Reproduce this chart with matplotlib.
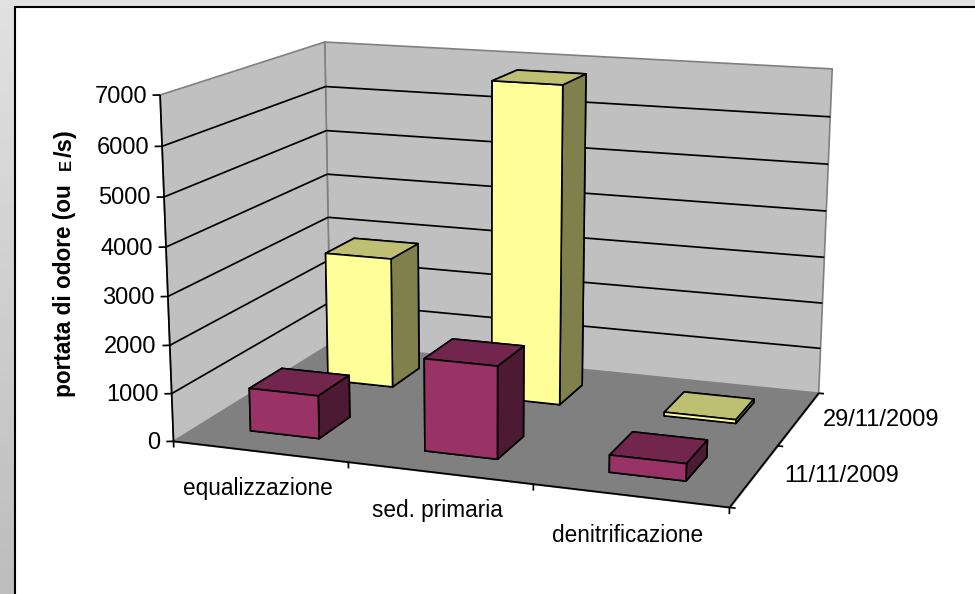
import numpy as np
import matplotlib
matplotlib.use('Agg')
import matplotlib.pyplot as plt
from matplotlib.patches import Rectangle
from mpl_toolkits.mplot3d import proj3d
from mpl_toolkits.mplot3d.art3d import Poly3DCollection, Line3DCollection

plt.rcParams['font.family'] = ['Liberation Sans', 'DejaVu Sans']

categories = ['equalizzazione', 'sed. primaria', 'denitrificazione']
series_names = ['11/11/2009', '29/11/2009']
values_nov11 = [900, 1900, 350]
values_nov29 = [2850, 6800, 80]
value_ticks = [0, 1000, 2000, 3000, 4000, 5000, 6000, 7000]

W, H = 975, 594
ZMAX = value_ticks[-1]
NCAT = len(categories)
NSER = len(series_names)

# reference points of the box: (category, series, value) -> pixel
box_pts = [
    (0, 0, 7000, 159.5, 95), (0, 0, 0, 175, 440),
    (0, 2, 7000, 325.5, 41), (0, 2, 0, 329.5, 346),
    (3, 2, 7000, 832, 70), (3, 2, 0, 818, 391),
    (3, 0, 0, 729, 508), (1, 0, 0, 348, 462),
    (2, 0, 0, 532, 485), (3, 1, 0, 780, 446),
]


def fit_camera(pts):
    # plain DLT, value axis and pixels scaled down so the svd behaves
    rows = []
    for x, y, z, u, v in pts:
        z, u, v = z / 1000, u / 1000, (H - v) / 1000
        rows.append([x, y, z, 1, 0, 0, 0, 0, -u * x, -u * y, -u * z, -u])
        rows.append([0, 0, 0, 0, x, y, z, 1, -v * x, -v * y, -v * z, -v])
    p = np.linalg.svd(np.array(rows))[2][-1].reshape(3, 4)
    p[:2] *= 1000
    p[:, 2] /= 1000
    w = p[2] @ np.array([1.5, 1, 3500, 1])
    p = p / w
    return np.vstack([p[0], p[1], [0, 0, 0, -1], p[2]])


fig = plt.figure(figsize=(W / 100, H / 100), dpi=100)

# grey slide background and white chart area
bg = fig.add_axes([0, 0, 1, 1], zorder=0)
bg.imshow(np.linspace(0.88, 0.74, 64).reshape(-1, 1), cmap='gray', vmin=0, vmax=1,
          extent=(0, W, H, 0), aspect='auto')
bg.add_patch(Rectangle((15, 7), W, H, facecolor='white', edgecolor='black', linewidth=1.5))
bg.set_xlim(0, W)
bg.set_ylim(H, 0)
bg.axis('off')

ax = fig.add_axes([0, 0, 1, 1], projection='3d', zorder=1, computed_zorder=False)
ax.set_axis_off()
ax.patch.set_visible(False)
M = fit_camera(box_pts)
ax.get_proj = lambda: M
ax.apply_aspect = lambda position=None: None


def label(x, y, z, s, dx, dy, **kw):
    # text at a projected chart position, shifted by dx, dy pixels
    px, py, _ = proj3d.proj_transform(x, y, z, M)
    fig.text((px + dx) / W, (py + dy) / H, s, color='black', va='center', **kw)


# walls and floor
left_wall = [(0, 0, 0), (0, NSER, 0), (0, NSER, ZMAX), (0, 0, ZMAX)]
back_wall = [(0, NSER, 0), (NCAT, NSER, 0), (NCAT, NSER, ZMAX), (0, NSER, ZMAX)]
floor = [(0, 0, 0), (NCAT, 0, 0), (NCAT, NSER, 0), (0, NSER, 0)]
ax.add_collection3d(Poly3DCollection([left_wall, back_wall], facecolors='#C0C0C0',
                                     edgecolors='#808080', linewidths=1.2, zorder=1))
ax.add_collection3d(Poly3DCollection([floor], facecolors='#808080',
                                     edgecolors='#808080', linewidths=1.0, zorder=1))

# gridlines, axis lines and ticks
segs = []
for v in value_ticks[1:-1]:
    segs.append([(0, 0, v), (0, NSER, v)])
    segs.append([(0, NSER, v), (NCAT, NSER, v)])
segs.append([(0, 0, 0), (0, 0, ZMAX)])
segs.append([(0, 0, 0), (NCAT, 0, 0)])
segs.append([(NCAT, 0, 0), (NCAT, NSER, 0)])
for v in value_ticks:
    segs.append([(-0.034, -0.016, v), (0, 0, v)])
for i in range(NCAT + 1):
    segs.append([(i, 0, 0), (i, 0, -130)])
for j in range(NSER + 1):
    segs.append([(NCAT, j, 0), (NCAT + 0.03, j, 0)])
ax.add_collection3d(Line3DCollection(segs, colors='black', linewidths=1.25, zorder=2))

# bars, back row first. face order: bottom, top, front, back, left, right
bar_w = 0.4
xpos = np.arange(NCAT) + 0.5 - bar_w / 2
nov29_colors = ['#80804D', '#BFBF73', '#FFFF99', '#80804D', '#80804D', '#80804D']
nov11_colors = ['#4D1A33', '#73264D', '#993366', '#4D1A33', '#4D1A33', '#4D1A33']
ax.bar3d(xpos, [1.5 - bar_w / 2] * NCAT, [0] * NCAT, bar_w, bar_w, values_nov29,
         color=nov29_colors * NCAT, shade=False, edgecolor='black', linewidth=1.2, zorder=3)
ax.bar3d(xpos, [0.5 - bar_w / 2] * NCAT, [0] * NCAT, bar_w, bar_w, values_nov11,
         color=nov11_colors * NCAT, shade=False, edgecolor='black', linewidth=1.2, zorder=4)

ax.viewLim.intervalx = (0, W)
ax.viewLim.intervaly = (0, H)

# labels
for v in value_ticks:
    label(0, 0, v, str(v), -13, -1.5, ha='right', fontsize=17)
cat_dy = [-37, -38, -40]
for i, c in enumerate(categories):
    label(i + 0.5, 0, 0, c, -2, cat_dy[i], ha='center', fontsize=16.3)
ser_dx = [30, 24]
for j, s in enumerate(series_names):
    label(NCAT, j + 0.5, 0, s, ser_dx[j], -1, ha='left', fontsize=17)

# axis title, the E is set smaller
fig.text(65 / W, 1 - 397 / H, 'portata di odore (ou', rotation=90, ha='center', va='bottom',
         fontsize=16.3, fontweight='bold')
fig.text(66 / W, 1 - 170 / H, 'E', rotation=90, ha='center', va='bottom',
         fontsize=12, fontweight='bold')
fig.text(65 / W, 1 - 157 / H, '/s)', rotation=90, ha='center', va='bottom',
         fontsize=17, fontweight='bold')

fig.savefig('out.png', dpi=100)
